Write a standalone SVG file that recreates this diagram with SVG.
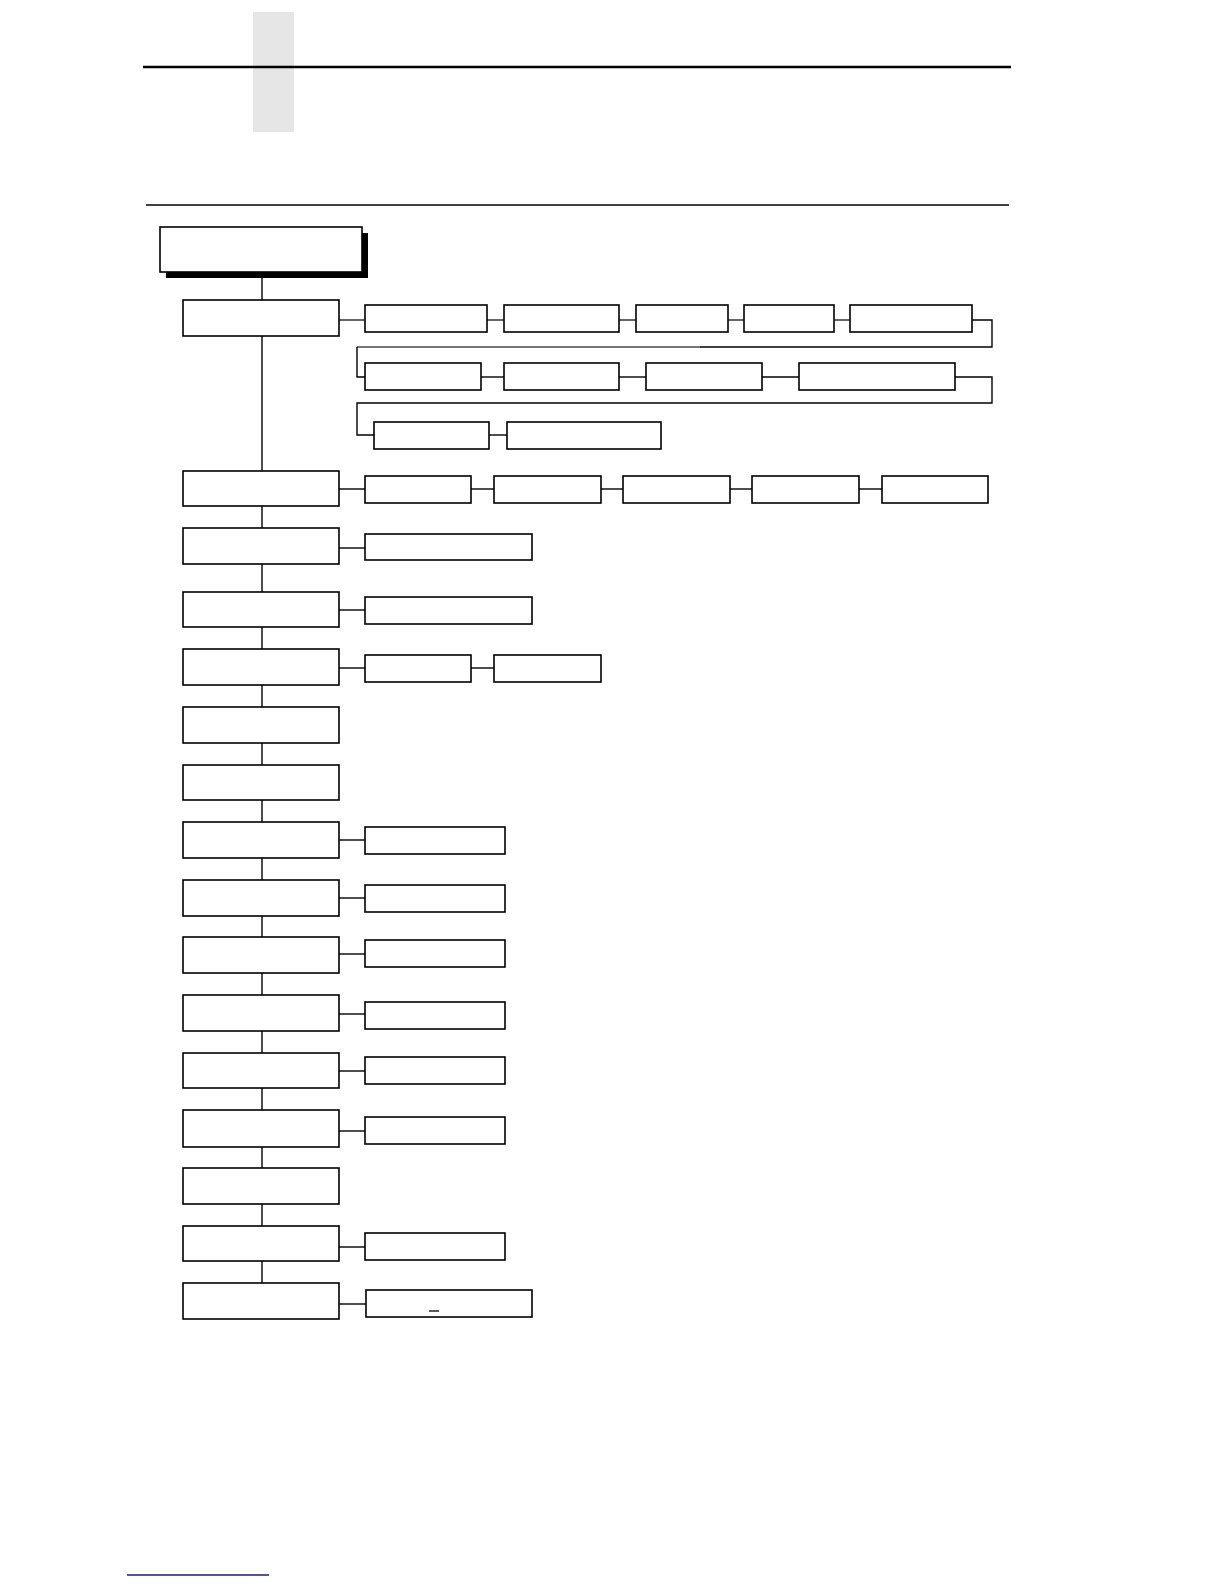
<svg xmlns="http://www.w3.org/2000/svg" width="1224" height="1584" viewBox="0 0 1224 1584">
<style>
.b{fill:#fff;stroke:#000;stroke-width:1.6}
.c{fill:none;stroke:#000;stroke-width:1.4}
.g{fill:none;stroke:#4a4a4a;stroke-width:1.7}
</style>
<rect width="1224" height="1584" fill="#fff"/>
<g id="header">
<rect x="253" y="12" width="41" height="120" fill="#e6e6e6"/>
<line x1="143" y1="67" x2="1011" y2="67" stroke="#000" stroke-width="2.6"/>
<line x1="146" y1="205" x2="1009" y2="205" stroke="#000" stroke-width="1.3"/>
</g>
<g id="connectors">
<line class="c" x1="262" y1="272" x2="262" y2="1283"/>
<line class="g" x1="339" y1="320" x2="365" y2="320"/>
<line class="g" x1="487" y1="320" x2="504" y2="320"/>
<line class="g" x1="619" y1="320" x2="636" y2="320"/>
<line class="g" x1="728" y1="320" x2="744" y2="320"/>
<line class="g" x1="834" y1="320" x2="850" y2="320"/>
<polyline class="c" points="972,320 992,320 992,347 700,347"/>
<polyline class="g" points="700,347 357,347"/>
<polyline class="c" points="357,347 357,377 365,377"/>
<line class="c" x1="481" y1="377" x2="504" y2="377"/>
<line class="c" x1="619" y1="377" x2="646" y2="377"/>
<line class="c" x1="762" y1="377" x2="799" y2="377"/>
<polyline class="c" points="955,377 992,377 992,403 357,403 357,435 374,435"/>
<line class="c" x1="489" y1="435" x2="507" y2="435"/>
<line class="c" x1="339" y1="489" x2="365" y2="489"/>
<line class="c" x1="471" y1="489" x2="494" y2="489"/>
<line class="c" x1="601" y1="489" x2="623" y2="489"/>
<line class="c" x1="730" y1="489" x2="752" y2="489"/>
<line class="c" x1="859" y1="489" x2="882" y2="489"/>
<line class="c" x1="339" y1="548" x2="365" y2="548"/>
<line class="c" x1="339" y1="610" x2="365" y2="610"/>
<line class="c" x1="339" y1="668" x2="365" y2="668"/>
<line class="c" x1="471" y1="668" x2="494" y2="668"/>
<line class="c" x1="339" y1="840" x2="365" y2="840"/>
<line class="c" x1="339" y1="898" x2="365" y2="898"/>
<line class="c" x1="339" y1="954" x2="365" y2="954"/>
<line class="c" x1="339" y1="1014" x2="365" y2="1014"/>
<line class="c" x1="339" y1="1071" x2="365" y2="1071"/>
<line class="c" x1="339" y1="1131" x2="365" y2="1131"/>
<line class="c" x1="339" y1="1247" x2="365" y2="1247"/>
<line class="c" x1="339" y1="1304" x2="366" y2="1304"/>
</g>
<g id="root">
<rect x="166" y="233" width="202" height="45" fill="#000"/>
<rect class="b" x="160" y="227" width="202" height="45"/>
</g>
<g id="m1"><rect class="b" x="183" y="300" width="156" height="36"/></g>
<g id="m2"><rect class="b" x="183" y="471" width="156" height="35"/></g>
<g id="m3"><rect class="b" x="183" y="528" width="156" height="36"/></g>
<g id="m4"><rect class="b" x="183" y="592" width="156" height="35"/></g>
<g id="m5"><rect class="b" x="183" y="649" width="156" height="36"/></g>
<g id="m6"><rect class="b" x="183" y="707" width="156" height="36"/></g>
<g id="m7"><rect class="b" x="183" y="765" width="156" height="35"/></g>
<g id="m8"><rect class="b" x="183" y="822" width="156" height="36"/></g>
<g id="m9"><rect class="b" x="183" y="880" width="156" height="36"/></g>
<g id="m10"><rect class="b" x="183" y="937" width="156" height="36"/></g>
<g id="m11"><rect class="b" x="183" y="995" width="156" height="36"/></g>
<g id="m12"><rect class="b" x="183" y="1053" width="156" height="35"/></g>
<g id="m13"><rect class="b" x="183" y="1110" width="156" height="37"/></g>
<g id="m14"><rect class="b" x="183" y="1168" width="156" height="36"/></g>
<g id="m15"><rect class="b" x="183" y="1226" width="156" height="35"/></g>
<g id="m16"><rect class="b" x="183" y="1283" width="156" height="36"/></g>
<g id="c1a"><rect class="b" x="365" y="305" width="122" height="27"/></g>
<g id="c1b"><rect class="b" x="504" y="305" width="115" height="27"/></g>
<g id="c1c"><rect class="b" x="636" y="305" width="92" height="27"/></g>
<g id="c1d"><rect class="b" x="744" y="305" width="90" height="27"/></g>
<g id="c1e"><rect class="b" x="850" y="305" width="122" height="27"/></g>
<g id="c1f"><rect class="b" x="365" y="363" width="116" height="27"/></g>
<g id="c1g"><rect class="b" x="504" y="363" width="115" height="27"/></g>
<g id="c1h"><rect class="b" x="646" y="363" width="116" height="27"/></g>
<g id="c1i"><rect class="b" x="799" y="363" width="156" height="27"/></g>
<g id="c1j"><rect class="b" x="374" y="422" width="115" height="27"/></g>
<g id="c1k"><rect class="b" x="507" y="422" width="154" height="27"/></g>
<g id="c2a"><rect class="b" x="365" y="476" width="106" height="27"/></g>
<g id="c2b"><rect class="b" x="494" y="476" width="107" height="27"/></g>
<g id="c2c"><rect class="b" x="623" y="476" width="107" height="27"/></g>
<g id="c2d"><rect class="b" x="752" y="476" width="107" height="27"/></g>
<g id="c2e"><rect class="b" x="882" y="476" width="106" height="27"/></g>
<g id="c3"><rect class="b" x="365" y="534" width="167" height="26"/></g>
<g id="c4"><rect class="b" x="365" y="597" width="167" height="27"/></g>
<g id="c5a"><rect class="b" x="365" y="655" width="106" height="27"/></g>
<g id="c5b"><rect class="b" x="494" y="655" width="107" height="27"/></g>
<g id="c8"><rect class="b" x="365" y="827" width="140" height="27"/></g>
<g id="c9"><rect class="b" x="365" y="885" width="140" height="27"/></g>
<g id="c10"><rect class="b" x="365" y="940" width="140" height="27"/></g>
<g id="c11"><rect class="b" x="365" y="1002" width="140" height="27"/></g>
<g id="c12"><rect class="b" x="365" y="1057" width="140" height="27"/></g>
<g id="c13"><rect class="b" x="365" y="1117" width="140" height="27"/></g>
<g id="c15"><rect class="b" x="365" y="1233" width="140" height="27"/></g>
<g id="c16"><rect class="b" x="366" y="1290" width="166" height="27"/>
<line x1="429" y1="1311" x2="439" y2="1311" stroke="#000" stroke-width="1.3"/></g>
<g id="footer"><line x1="127" y1="1575" x2="269" y2="1575" stroke="#1a1a8c" stroke-width="1.3"/></g>
</svg>
